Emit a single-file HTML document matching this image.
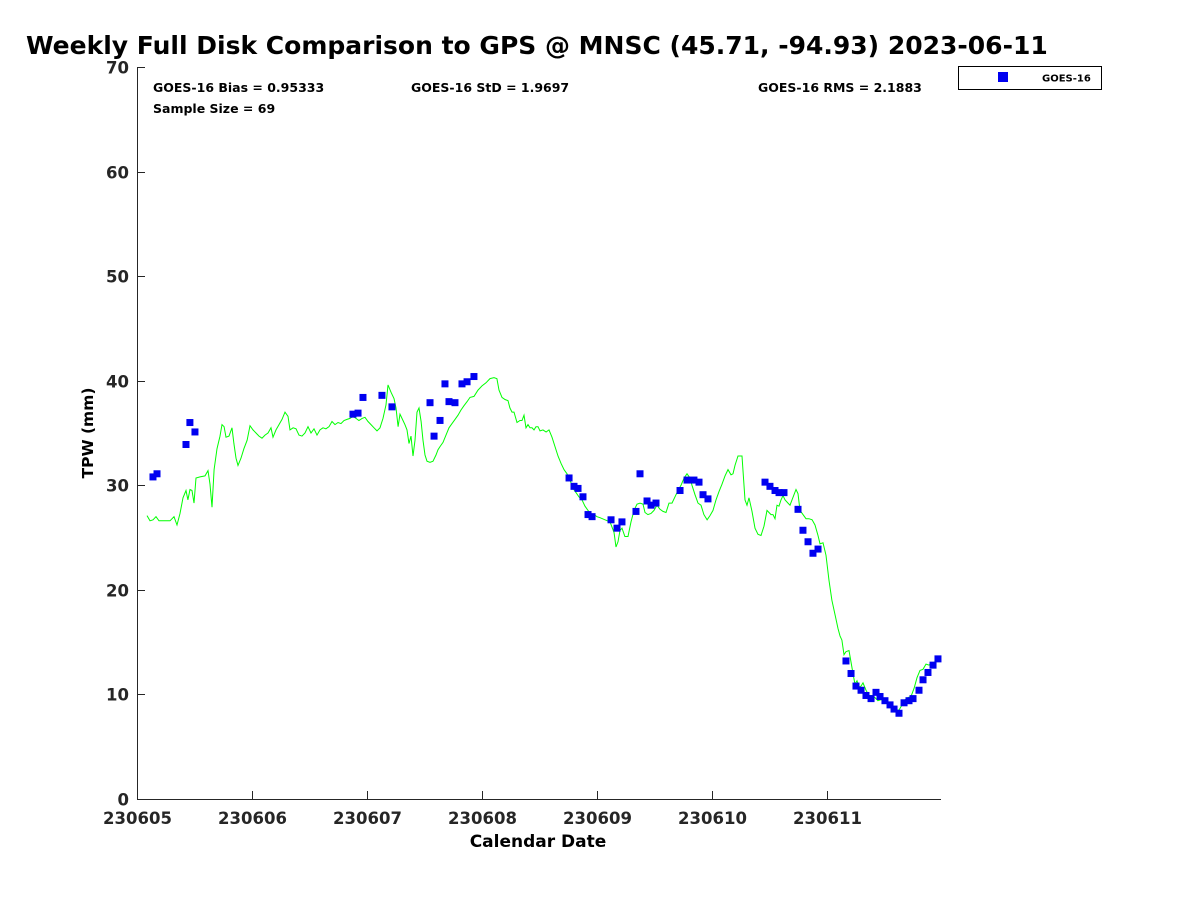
<!DOCTYPE html>
<html><head><meta charset="utf-8"><style>
body{margin:0;background:#fff;}
svg{display:block;font-family:"DejaVu Sans","Liberation Sans",sans-serif;font-weight:bold;}
</style></head><body>
<svg id="chart" width="1200" height="900" viewBox="0 0 1200 900">
<rect width="1200" height="900" fill="#fff"/>
<text x="26" y="54" font-size="25" fill="#000">Weekly Full Disk Comparison to GPS @ MNSC (45.71, -94.93) 2023-06-11</text>
<g id="axes"></g>
<g id="marks"></g>
<text x="153" y="92" font-size="12.5">GOES-16 Bias = 0.95333</text>
<text x="153" y="113" font-size="12.5">Sample Size = 69</text>
<text x="411" y="92" font-size="12.5">GOES-16 StD = 1.9697</text>
<text x="758" y="92" font-size="12.5">GOES-16 RMS = 2.1883</text>
<g>
<rect x="958.5" y="66.5" width="143" height="23" fill="#fff" stroke="#000" stroke-width="1"/>
<rect x="998" y="72" width="10" height="10" fill="#0000f0"/>
<text x="1042" y="81.5" font-size="10">GOES-16</text>
</g>
<text x="538" y="847" font-size="17" text-anchor="middle">Calendar Date</text>
<text transform="translate(93,433) rotate(-90)" font-size="15.5" text-anchor="middle">TPW (mm)</text>
</svg>
<script>
const xTickLabels=["230605","230606","230607","230608","230609","230610","230611"];
const yTicks=[0,10,20,30,40,50,60,70];
const goesDays=[0.139,0.174,0.426,0.46,0.504,1.878,1.922,1.965,2.13,2.217,2.548,2.583,2.635,2.678,2.713,2.765,2.826,2.87,2.93,3.757,3.8,3.835,3.878,3.922,3.957,4.122,4.174,4.217,4.339,4.374,4.435,4.47,4.513,4.722,4.783,4.843,4.887,4.922,4.965,5.461,5.504,5.548,5.583,5.626,5.748,5.791,5.835,5.878,5.922,6.165,6.209,6.252,6.296,6.339,6.383,6.426,6.461,6.504,6.548,6.583,6.626,6.67,6.713,6.748,6.8,6.835,6.878,6.922,6.965];
const goesTPW=[30.8,31.1,33.9,36.0,35.1,36.8,36.9,38.4,38.6,37.5,37.9,34.7,36.2,39.7,38.0,37.9,39.7,39.9,40.4,30.7,29.9,29.7,28.9,27.2,27.0,26.7,25.9,26.5,27.5,31.1,28.5,28.1,28.3,29.5,30.5,30.5,30.3,29.1,28.7,30.3,29.9,29.5,29.3,29.3,27.7,25.7,24.6,23.5,23.9,13.2,12.0,10.8,10.4,9.9,9.6,10.2,9.8,9.4,9.0,8.6,8.2,9.2,9.4,9.6,10.4,11.4,12.1,12.8,13.4];
const gpsDays=[0.087,0.113,0.139,0.165,0.191,0.287,0.322,0.348,0.374,0.4,0.426,0.443,0.461,0.478,0.496,0.513,0.548,0.591,0.617,0.635,0.652,0.67,0.696,0.722,0.739,0.757,0.774,0.8,0.826,0.843,0.861,0.878,0.904,0.93,0.957,0.983,1.009,1.035,1.061,1.087,1.113,1.139,1.165,1.183,1.209,1.235,1.261,1.287,1.313,1.33,1.357,1.383,1.409,1.435,1.461,1.487,1.513,1.539,1.565,1.591,1.617,1.643,1.67,1.696,1.722,1.748,1.774,1.8,1.826,1.852,1.878,1.904,1.93,1.957,1.983,2.009,2.035,2.061,2.087,2.113,2.139,2.165,2.183,2.209,2.235,2.252,2.27,2.287,2.313,2.33,2.348,2.365,2.383,2.4,2.417,2.435,2.452,2.47,2.487,2.504,2.522,2.548,2.574,2.6,2.617,2.635,2.661,2.687,2.713,2.739,2.765,2.791,2.817,2.843,2.87,2.896,2.93,2.965,3.0,3.035,3.07,3.104,3.13,3.148,3.174,3.2,3.226,3.243,3.261,3.278,3.304,3.33,3.348,3.365,3.383,3.4,3.417,3.435,3.452,3.47,3.487,3.504,3.53,3.557,3.583,3.609,3.635,3.661,3.687,3.713,3.739,3.765,3.791,3.817,3.843,3.87,3.896,3.922,3.948,3.974,4.0,4.026,4.07,4.113,4.148,4.165,4.183,4.2,4.217,4.243,4.27,4.296,4.322,4.348,4.374,4.4,4.417,4.443,4.47,4.496,4.522,4.548,4.574,4.6,4.626,4.652,4.678,4.704,4.73,4.757,4.783,4.809,4.826,4.852,4.878,4.904,4.93,4.957,4.983,5.009,5.035,5.061,5.087,5.113,5.139,5.165,5.183,5.2,5.226,5.261,5.287,5.304,5.322,5.348,5.374,5.4,5.426,5.452,5.478,5.496,5.513,5.53,5.548,5.565,5.583,5.6,5.617,5.635,5.661,5.678,5.696,5.713,5.73,5.748,5.765,5.791,5.817,5.843,5.87,5.896,5.922,5.939,5.965,5.991,6.017,6.043,6.07,6.096,6.113,6.13,6.148,6.165,6.191,6.209,6.226,6.243,6.261,6.278,6.296,6.313,6.339,6.365,6.391,6.417,6.443,6.47,6.496,6.522,6.548,6.574,6.6,6.626,6.652,6.678,6.704,6.73,6.757,6.783,6.809,6.835,6.861,6.887,6.913,6.939,6.965,6.991];
const gpsTPW=[27.1,26.6,26.7,27.0,26.6,26.6,27.0,26.2,27.3,28.8,29.5,28.6,29.6,29.5,28.3,30.7,30.8,30.9,31.4,30.1,27.9,31.5,33.5,34.7,35.8,35.6,34.6,34.7,35.5,34.0,32.6,31.9,32.6,33.5,34.3,35.7,35.3,35.0,34.7,34.5,34.8,35.0,35.5,34.6,35.3,35.8,36.3,37.0,36.6,35.3,35.5,35.4,34.8,34.7,35.0,35.6,35.0,35.4,34.8,35.3,35.5,35.4,35.6,36.1,35.8,36.0,35.9,36.2,36.3,36.4,36.6,36.4,36.2,36.4,36.5,36.1,35.8,35.5,35.2,35.5,36.4,37.7,39.6,38.9,38.3,37.4,35.6,36.8,36.2,35.8,35.3,34.0,34.7,32.8,34.3,37.0,37.4,36.1,34.3,32.9,32.3,32.2,32.3,32.9,33.4,33.7,34.1,34.8,35.5,35.9,36.3,36.7,37.2,37.6,38.0,38.4,38.5,39.1,39.5,39.8,40.2,40.3,40.2,39.1,38.4,38.2,38.1,37.4,37.0,37.0,36.0,36.2,36.2,36.7,35.5,35.8,35.5,35.5,35.3,35.6,35.6,35.2,35.3,35.1,35.3,34.6,33.7,32.8,32.1,31.5,31.1,30.5,29.7,29.3,28.9,28.6,28.0,27.6,27.2,27.2,27.0,26.9,26.7,26.5,25.5,24.1,24.6,25.7,25.9,25.1,25.1,26.5,27.6,28.2,28.3,28.2,27.4,27.2,27.3,27.6,28.1,27.7,27.5,27.4,28.3,28.3,28.9,29.5,30.0,30.7,31.1,30.7,30.0,29.1,28.3,28.1,27.2,26.7,27.1,27.6,28.6,29.4,30.1,30.9,31.5,31.0,31.1,31.9,32.8,32.8,28.6,28.1,28.8,27.5,25.9,25.3,25.2,26.1,27.6,27.4,27.2,27.2,26.8,28.1,28.0,28.6,29.0,28.6,28.3,28.1,28.6,29.1,29.6,29.2,27.6,27.2,26.8,26.8,26.7,26.2,25.2,24.4,24.5,23.3,20.9,19.0,17.6,16.3,15.6,15.2,13.8,14.1,14.2,13.1,12.0,11.0,11.3,10.7,10.8,11.1,10.4,9.9,9.9,9.7,9.4,9.5,9.4,9.4,9.1,8.9,8.5,8.5,9.0,9.5,9.7,9.8,10.6,11.6,12.3,12.4,12.9,12.8,13.0,13.1,13.3,13.7];

const NS="http://www.w3.org/2000/svg";
const X0=137,X1=941,Y0=799,Y1=67,PXDAY=115;
function xs(d){return X0+d*PXDAY;}
function ys(v){return Y0-(v/70)*(Y0-Y1);}
function mk(tag,attrs,parent){const e=document.createElementNS(NS,tag);for(const k in attrs)e.setAttribute(k,attrs[k]);parent.appendChild(e);return e;}
const axes=document.getElementById('axes'),marks=document.getElementById('marks');
let a=mk('line',{x1:X0+.5,y1:Y1,x2:X0+.5,y2:Y0+.5,stroke:'#262626','stroke-width':1},axes);


a=mk('line',{x1:X0,y1:Y0+.5,x2:X1,y2:Y0+.5,stroke:'#262626','stroke-width':1},axes);


yTicks.forEach(v=>{const y=Math.round(ys(v))+.5;
 const t=mk('line',{x1:X0,y1:y,x2:X0+8,y2:y,stroke:'#262626'},axes);
 
 
 const l=mk('text',{x:X0-8,y:y+6,'font-size':16.5,'text-anchor':'end',fill:'#262626'},axes);l.textContent=v;
 
 
});
xTickLabels.forEach((s,i)=>{const x=Math.round(xs(i))+.5;
 const t=mk('line',{x1:x,y1:Y0,x2:x,y2:Y0-8,stroke:'#262626'},axes);
 
 
 const l=mk('text',{x:x,y:Y0+25,'font-size':16.5,'text-anchor':'middle',fill:'#262626'},axes);l.textContent=s;
 
 
});
const pts=gpsDays.map((d,i)=>xs(d).toFixed(1)+','+ys(gpsTPW[i]).toFixed(1)).join(' ');
const pl=mk('polyline',{points:pts,fill:'none',stroke:'#00ff00','stroke-width':1},marks);


goesDays.forEach((d,i)=>{
 const r=mk('rect',{x:xs(d)-3.5,y:ys(goesTPW[i])-3.5,width:7,height:7,fill:'#0000f0'},marks);
 
 
});
</script>
</body></html>
